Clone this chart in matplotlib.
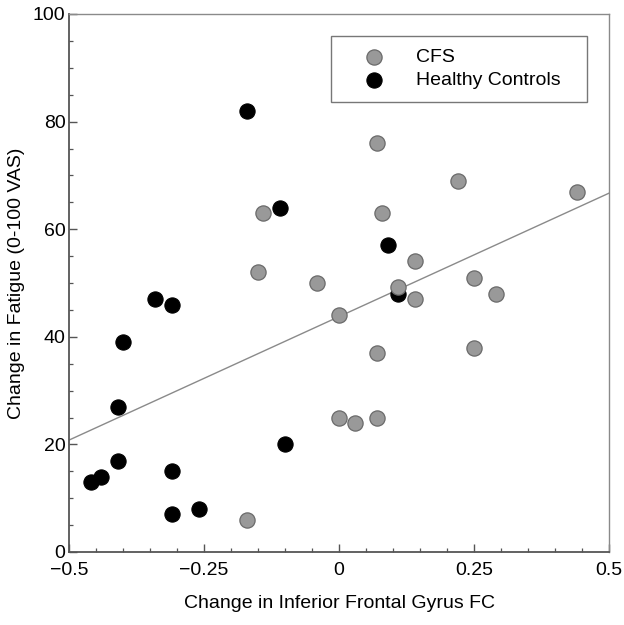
import matplotlib
matplotlib.use("Agg")
import matplotlib.pyplot as plt
import numpy as np
from matplotlib.ticker import MultipleLocator, FixedLocator
from matplotlib.patches import Rectangle

plt.rcParams['font.family'] = ['Liberation Sans', 'DejaVu Sans']

cfs_x = [-0.17, -0.14, -0.15, -0.04, 0.07, 0.22, 0.44, 0.08, 0.14, 0.25, 0.29,
         0.11, 0.14, 0.00, 0.07, 0.25, 0.00, 0.03, 0.07]
cfs_y = [6, 63, 52, 50, 76, 69, 67, 63, 54, 51, 48, 49.2, 47, 44, 37, 38, 25, 24, 25]

hc_x = [-0.17, -0.11, -0.34, -0.31, -0.40, -0.41, -0.41, -0.46, -0.44, -0.31,
        -0.31, -0.26, -0.10, 0.09, 0.11]
hc_y = [82, 64, 47, 46, 39, 27, 17, 13, 14, 15, 7, 8, 20, 57, 48]

fit_intercept = 43.75
fit_slope = 45.9

x_ticks = [-0.5, -0.25, 0, 0.25, 0.5]
x_ticklabels = ['\u22120.5', '\u22120.25', '0', '0.25', '0.5']
y_ticks = [0, 20, 40, 60, 80, 100]

FS = 14

fig = plt.figure(figsize=(6.24, 6.25), dpi=100)
ax = fig.add_axes([0.1106, 0.1168, 0.8654, 0.8608])

xl = np.array([-0.5, 0.5])
ax.plot(xl, fit_intercept + fit_slope * xl, color='#8a8a8a', lw=1.0, zorder=1)

ax.scatter(hc_x, hc_y, s=120, color='black', edgecolors='black', linewidths=0.8,
           zorder=2, label='Healthy Controls')
ax.scatter(cfs_x, cfs_y, s=120, color='#999999', edgecolors='#6a6a6a', linewidths=0.9,
           zorder=3, label='CFS')

ax.set_xlim(-0.5, 0.5)
ax.set_ylim(0, 100)
ax.xaxis.set_major_locator(FixedLocator(x_ticks))
ax.set_xticklabels(x_ticklabels)
ax.xaxis.set_minor_locator(MultipleLocator(0.05))
ax.set_yticks(y_ticks)
ax.yaxis.set_minor_locator(MultipleLocator(5))

ax.tick_params(which='both', direction='in', top=False, right=False,
               colors='#555555', labelcolor='black', labelsize=FS)
ax.tick_params(which='major', length=6, width=1.0)
ax.tick_params(which='minor', length=3, width=0.9)
ax.tick_params(axis='x', pad=7)
ax.tick_params(axis='y', pad=2.5)

for s in ['left', 'bottom']:
    ax.spines[s].set_color('#555555')
    ax.spines[s].set_linewidth(1.3)
for s in ['top', 'right']:
    ax.spines[s].set_color('#8a8a8a')
    ax.spines[s].set_linewidth(1.0)

ax.set_xlabel('Change in Inferior Frontal Gyrus FC', fontsize=FS, labelpad=12)
ax.set_ylabel('Change in Fatigue (0-100 VAS)', fontsize=FS, labelpad=6)

handles, labels = ax.get_legend_handles_labels()
leg = ax.legend([handles[1], handles[0]], [labels[1], labels[0]],
                loc='center left', bbox_to_anchor=(0.504, 0.8975),
                fontsize=FS, frameon=False,
                borderpad=0, handletextpad=0.46, labelspacing=0.28,
                borderaxespad=0, handlelength=3.4)
ax.add_patch(Rectangle((0.485, 0.836), 0.474, 0.123, transform=ax.transAxes,
                       fill=False, edgecolor='#777777', lw=1.0, zorder=4))

fig.savefig('out.png', dpi=100)
